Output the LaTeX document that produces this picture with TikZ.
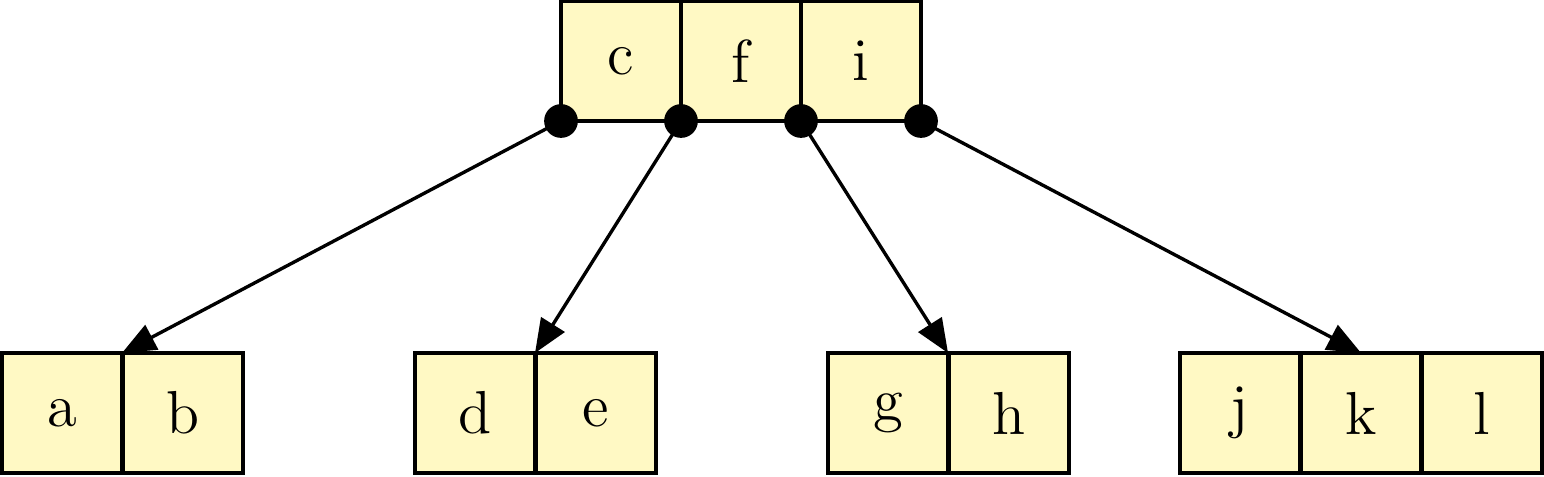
\documentclass[tikz,border=0pt]{standalone}
\usetikzlibrary{positioning,arrows.meta}
\definecolor{keyfill}{RGB}{255,249,196}
\tikzset{
  key/.style={draw,thick,fill=keyfill,minimum size=1cm,inner sep=0pt,outer sep=0pt,font=\Large},
  ptr/.style={circle,fill=black,inner sep=0pt,minimum size=8pt},
  link/.style={-{Triangle[length=8pt,width=6.5pt]},thick,black},
}
\begin{document}
\begin{tikzpicture}[x=0.2371pt,y=0.2371pt,yscale=-1,xscale=1]
\useasboundingbox (0,0) rectangle (1544,476);

% root part
\node[key] (c) at (621,61) {c};
\node[key,right=0pt of c] (f) {f};
\node[key,right=0pt of f] (i) {i};

\node[ptr] (p0) at (c.south west) {};
\node[ptr] (p1) at (f.south west) {};
\node[ptr] (p2) at (i.south west) {};
\node[ptr] (p3) at (i.south east) {};

% leaf part
\node[key] (a) at (62,413) {a};
\node[key,right=0.25pt of a] (b) {b};

\node[key] (d) at (475,413) {d};
\node[key,right=0.25pt of d] (e) {e};

\node[key] (g) at (888,413) {g};
\node[key,right=0.25pt of g] (h) {h};

\node[key] (j) at (1240,413) {j};
\node[key,right=0.25pt of j] (k) {k};
\node[key,right=0.25pt of k] (l) {l};

% pointer part
\draw [link] (p0.center) -- (a.north east);
\draw [link] (p1.center) -- (d.north east);
\draw [link] (p2.center) -- (g.north east);
\draw [link] (p3.center) -- (k.north);

\end{tikzpicture}
\end{document}
